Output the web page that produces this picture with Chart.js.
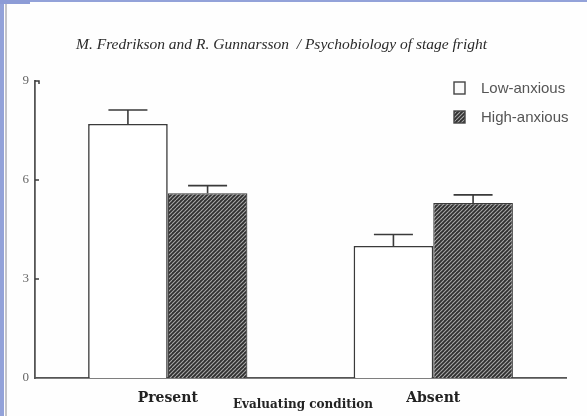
<!DOCTYPE html>
<html>
<head>
<meta charset="utf-8">
<script src="https://cdn.jsdelivr.net/npm/chart.js@4.4.1/dist/chart.umd.min.js"></script>
<style>
  body { margin: 0; background: #fff; }
  #wrap { position: relative; width: 587px; height: 416px; overflow: hidden; background: #fefefe; }
  #chart { position: absolute; left: 0; top: 0; }
  .edge { position: absolute; }
</style>
</head>
<body>
<div id="wrap">
  <canvas id="chart" width="587" height="416"></canvas>
  <div class="edge" style="left:0;top:0;width:4px;height:416px;background:#93a2d9;"></div>
  <div class="edge" style="left:5px;top:0;width:2px;height:416px;background:#c4c4c8;"></div>
  <div class="edge" style="left:0;top:0;width:587px;height:2px;background:#93a2d9;"></div>
  <div class="edge" style="left:0;top:0;width:30px;height:4px;background:#8d9cd6;"></div>
</div>
<script>
'use strict'

// stage fright figure - means with error bars, two groups

// Data
let conditions = ['Present', 'Absent'];
let groupNames = ['Low-anxious', 'High-anxious'];
let lowMeans = [7.7, 4.0];
let lowErr = [0.42, 0.35];
let highMeans = [5.6, 5.3];
let highErr = [0.23, 0.25];
let yTicks = [0, 3, 6, 9];

let titleText = 'M. Fredrikson and R. Gunnarsson  / Psychobiology of stage fright';
let xTitle = 'Evaluating condition';

// hatch pattern for the high-anxious bars
function makeHatch() {
    let c = document.createElement('canvas');
    c.width = 8;
    c.height = 8;
    let g = c.getContext('2d');
    g.fillStyle = '#2f2f2f';
    g.fillRect(0, 0, 8, 8);
    g.strokeStyle = '#a8a8a8';
    g.lineWidth = 1.1;
    for (let k = -8; k <= 8; k += 4) {
        g.beginPath();
        g.moveTo(k, 8);
        g.lineTo(k + 8, 0);
        g.stroke();
    }
    return g.createPattern(c, 'repeat');
}

let hatch = makeHatch();
let errs = [lowErr, highErr];

// error bars, inner ticks, legend and titles
let extras = {
    id: 'extras',
    afterDatasetsDraw(chart) {
        let ctx = chart.ctx;
        let y = chart.scales.y;
        let area = chart.chartArea;
        ctx.save();
        ctx.strokeStyle = '#3a3a3a';
        ctx.lineWidth = 1.6;
        chart.data.datasets.forEach((ds, di) => {
            let meta = chart.getDatasetMeta(di);
            meta.data.forEach((bar, i) => {
                let top = y.getPixelForValue(ds.data[i] + errs[di][i]);
                let x = bar.x;
                ctx.beginPath();
                ctx.moveTo(x, bar.y);
                ctx.lineTo(x, top);
                ctx.moveTo(x - 19.5, top);
                ctx.lineTo(x + 19.5, top);
                ctx.stroke();
            });
        });

        // small ticks pointing into the plot
        ctx.lineWidth = 1.5;
        yTicks.forEach(t => {
            if (t === 0) return;
            let py = y.getPixelForValue(t);
            ctx.beginPath();
            ctx.moveTo(area.left, py);
            ctx.lineTo(area.left + 4, py);
            if (t === 9) ctx.lineTo(area.left + 4, py + 3);
            ctx.stroke();
        });

        // legend
        ctx.font = '15px "Liberation Sans", Arial, sans-serif';
        ctx.textBaseline = 'middle';
        ctx.textAlign = 'left';
        let ly = [88, 117];
        groupNames.forEach((name, i) => {
            ctx.fillStyle = i === 0 ? '#fafafa' : hatch;
            ctx.fillRect(454, ly[i] - 6, 11, 12);
            ctx.strokeStyle = '#444';
            ctx.lineWidth = 1.4;
            ctx.strokeRect(454, ly[i] - 6, 11, 12);
            ctx.fillStyle = '#555';
            ctx.fillText(name, 481, ly[i] + 1);
        });

        // header line and axis title
        ctx.fillStyle = '#2a2a2a';
        ctx.font = 'italic 15.5px "Liberation Serif", "Times New Roman", serif';
        ctx.fillText(titleText, 76, 45);
        ctx.textAlign = 'center';
        ctx.fillStyle = '#222';
        ctx.font = 'bold 12px "DejaVu Serif", serif';
        ctx.fillText(xTitle, 303, 405);
        ctx.restore();
    }
};

let chart = new Chart(document.getElementById('chart'), {
    type: 'bar',
    data: {
        labels: conditions,
        datasets: [
            {
                label: groupNames[0],
                data: lowMeans,
                backgroundColor: '#ffffff',
                borderColor: '#3a3a3a',
                borderWidth: 1.6,
                borderSkipped: 'bottom'
            },
            {
                label: groupNames[1],
                data: highMeans,
                backgroundColor: hatch,
                borderColor: '#3a3a3a',
                borderWidth: 1.2,
                borderSkipped: 'bottom'
            }
        ]
    },
    options: {
        responsive: false,
        animation: false,
        layout: { padding: { left: 0, top: 81, right: 21, bottom: 0 } },
        datasets: { bar: { categoryPercentage: 0.6, barPercentage: 1 } },
        plugins: {
            legend: { display: false },
            tooltip: { enabled: false }
        },
        scales: {
            x: {
                grid: { display: false, drawTicks: false },
                border: { color: '#555', width: 1.8 },
                ticks: {
                    padding: 12,
                    color: '#222',
                    font: { family: '"DejaVu Serif", serif', size: 14, weight: 'bold' }
                },
                afterFit(scale) { scale.height = 38; }
            },
            y: {
                min: 0,
                max: 9,
                afterBuildTicks(scale) {
                    scale.ticks = yTicks.map(v => ({ value: v }));
                },
                grid: { display: false, drawTicks: false },
                border: { color: '#555', width: 1.8 },
                ticks: {
                    padding: 6,
                    color: '#666',
                    font: { family: '"Liberation Serif", serif', size: 13 }
                },
                afterFit(scale) { scale.width = 35; }
            }
        }
    },
    plugins: [extras]
});
</script>
</body>
</html>
